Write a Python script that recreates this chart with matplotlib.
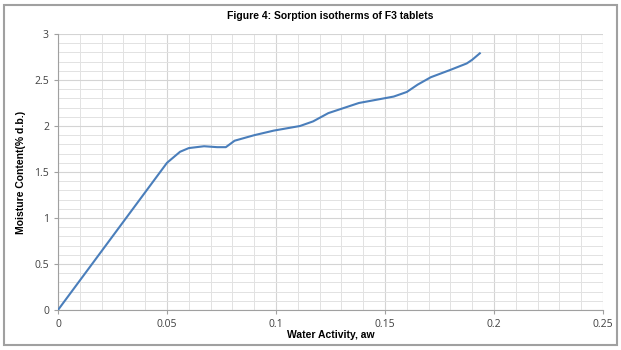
import matplotlib
matplotlib.use("Agg")
import matplotlib.pyplot as plt
from matplotlib.patches import Rectangle
from matplotlib.ticker import MultipleLocator

water_activity = [0, 0.01, 0.02, 0.03, 0.04, 0.05, 0.053, 0.056, 0.06, 0.067, 0.073, 0.077,
                  0.081, 0.09, 0.099, 0.111, 0.117, 0.124, 0.138, 0.154, 0.160,
                  0.165, 0.171, 0.180, 0.1875, 0.190, 0.1935]
moisture = [0, 0.32, 0.64, 0.96, 1.28, 1.60, 1.66, 1.72, 1.76, 1.78, 1.77, 1.77,
            1.84, 1.90, 1.95, 2.0, 2.05, 2.14, 2.25, 2.32, 2.37,
            2.45, 2.53, 2.61, 2.68, 2.72, 2.79]
x_ticks = [0, 0.05, 0.1, 0.15, 0.2, 0.25]
x_labels = ["0", "0.05", "0.1", "0.15", "0.2", "0.25"]
y_ticks = [0, 0.5, 1, 1.5, 2, 2.5, 3]
y_labels = ["0", "0.5", "1", "1.5", "2", "2.5", "3"]

fig = plt.figure(figsize=(6.21, 3.5), dpi=100)
fig.patches.append(Rectangle((4 / 621, 5 / 350), 613 / 621, 340 / 350,
                             transform=fig.transFigure, fill=False,
                             edgecolor="#a0a0a0", linewidth=1.5))
ax = fig.add_axes([58 / 621, 40 / 350, 545 / 621, 276 / 350])

ax.plot(water_activity, moisture, color="#4a7ebb", linewidth=1.5, zorder=3,
        solid_joinstyle="round")

ax.set_xlim(0, 0.25)
ax.set_ylim(0, 3)
ax.set_xticks(x_ticks)
ax.set_xticklabels(x_labels)
ax.set_yticks(y_ticks)
ax.set_yticklabels(y_labels)
ax.xaxis.set_minor_locator(MultipleLocator(0.01))
ax.yaxis.set_minor_locator(MultipleLocator(0.1))
ax.grid(which="major", color="#d4d4d4", linewidth=0.8)
ax.grid(which="minor", color="#e2e2e2", linewidth=0.7)
ax.set_axisbelow(True)

for s in ["top", "right"]:
    ax.spines[s].set_visible(False)
for s in ["left", "bottom"]:
    ax.spines[s].set_color("#a0a0a0")
    ax.spines[s].set_linewidth(0.8)

ax.tick_params(which="major", length=3, color="#a0a0a0", labelsize=7.5,
               labelcolor="#404040")
ax.tick_params(which="minor", length=0)
for lab in ax.get_xticklabels() + ax.get_yticklabels():
    lab.set_fontfamily("Open Sans")

ax.set_xlabel("Water Activity, aw", fontsize=7.5, fontweight="bold",
              family="Liberation Sans", labelpad=0)
ax.set_ylabel("Moisture Content(% d.b.)", fontsize=7.5, fontweight="bold",
              family="Liberation Sans", labelpad=6)
fig.text((58 + 603) / 2 / 621, 1 - 16 / 350, "Figure 4: Sorption isotherms of F3 tablets",
         ha="center", va="center", fontsize=7.5, fontweight="bold",
         family="Liberation Sans")

fig.savefig("out.png", dpi=100)
